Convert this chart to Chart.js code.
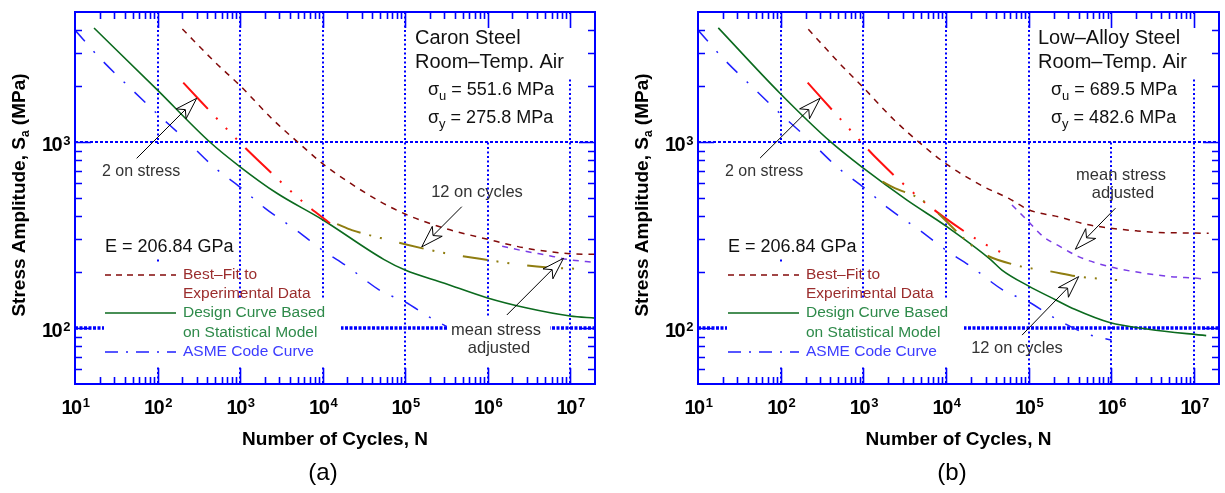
<!DOCTYPE html>
<html lang="en">
<head>
<meta charset="UTF-8">
<title>Fatigue S-N curves</title>
<script src="https://cdn.jsdelivr.net/npm/chart.js@4.4.0/dist/chart.umd.min.js"></script>
<style>
  body { margin: 0; background: #fff; }
  #wrap { position: relative; width: 1225px; height: 493px; }
  canvas { position: absolute; top: 0; }
</style>
</head>
<body>
<div id="wrap">
  <canvas id="chartA" width="612" height="493" style="left:0"></canvas>
  <canvas id="chartB" width="613" height="493" style="left:612px"></canvas>
</div>
<script>
// tick decades (labels are 10^d)
const xDecades = [1, 2, 3, 4, 5, 6, 7];
const yDecades = [2, 3];

// ASME code curve, same in both panels
const asmeN = [10, 20, 50, 100, 200, 500, 1e3, 2e3, 5e3, 1e4, 2e4, 5e4, 1e5, 2e5, 5e5, 1e6];
const asmeS = [3999, 2827, 1896, 1413, 1069, 724, 572, 441, 331, 262, 214, 159, 138, 114, 93.1, 86.2];

// (a) carbon steel
const fitA_N = [200, 500, 1e3, 2.5e3, 6e3, 1e4, 2e4, 5e4, 1e5, 3e5, 1e6, 3e6, 1e7, 2e7];
const fitA_S = [4050, 2680, 2010, 1320, 930, 765, 615, 478, 410, 344, 300, 268, 251, 249];
const designA_N = [17, 100, 430, 1e3, 2.8e3, 1e4, 5.5e4, 1e5, 3e5, 1e6, 3e6, 1e7, 2e7];
const designA_S = [4100, 1900, 1000, 736, 530, 382, 234, 205, 174, 145, 128, 116, 113];
const stressA_N = [205, 930, 2e3, 5.75e3, 1.23e4];
const stressA_S = [2085, 1025, 736, 477, 366];
const cycleA_N = [1.5e4, 2.26e4, 5e4, 1e5, 3e5, 1e6, 2e6, 5e6, 1.3e7];
const cycleA_S = [362, 336, 305, 282, 253, 232, 222, 212, 208];
const meanA_N = [1.5e6, 2.7e6, 5.8e6, 9.2e6, 2e7];
const meanA_S = [275, 260, 244, 234, 225];

// (b) low-alloy steel
const fitB_N = [216, 514, 960, 2.31e3, 5.35e3, 1.02e4, 2.6e4, 6e4, 1e5, 2.4e5, 4.8e5, 9.3e5, 2e6, 3.4e6, 1e7, 1.5e7];
const fitB_S = [4040, 2650, 2000, 1325, 951, 759, 588, 492, 432, 394, 362, 345, 333, 327, 324, 323];
const designB_N = [17.6, 98, 400, 1e3, 3.37e3, 1.02e4, 3.43e4, 4.74e4, 1e5, 2.1e5, 3.6e5, 9.5e5, 2.8e6, 1.4e7];
const designB_S = [4110, 1830, 1004, 723, 487, 351, 234, 205, 168, 142, 126, 107, 98.5, 91];
const stressB_N = [212, 726, 1483, 4450, 9330, 2.84e4, 5.98e4];
const stressB_S = [2084, 1136, 807, 513, 396, 285, 242];
const cycleB_N = [1.7e3, 2.3e3, 5.1e3, 2.6e4, 6.9e4, 1.9e5, 4e5, 1.17e6];
const cycleB_S = [612, 570, 488, 257, 218, 201, 189, 181];
const meanB_N = [6.27e4, 9.5e4, 1.5e5, 2.4e5, 4e5, 6.7e5, 1.17e6, 2.5e6, 5.2e6, 1.1e7, 1.4e7];
const meanB_S = [458, 381, 310, 274, 242, 223, 209, 197, 189, 185, 183];

const BLUE = '#0000ff';
const FAM = '"Liberation Sans", Arial, sans-serif';
const f = (size, bold) => (bold ? 'bold ' : '') + size + 'px ' + FAM;

const C_FIT = '#820a0a', C_DESIGN = '#0b6a1e', C_ASME = '#1f1fff';
const C_STRESS = '#ff1010', C_CYCLE = '#8f7d10', C_MEAN = '#7a3ce6';

function pts(n, s) { return n.map((v, i) => ({x: v, y: s[i]})); }

function ds(n, s, color, dash, width) {
  return {
    data: pts(n, s), borderColor: color, borderDash: dash, borderWidth: width,
    pointRadius: 0, fill: false, cubicInterpolationMode: 'monotone'
  };
}

function rich(ctx, parts, x, y, align) {
  let w = 0;
  const ws = parts.map(p => { ctx.font = p[1]; const m = ctx.measureText(p[0]).width; w += m; return m; });
  let cx = align === 'center' ? x - w / 2 : align === 'right' ? x - w : x;
  ctx.textAlign = 'left';
  parts.forEach((p, i) => { ctx.font = p[1]; ctx.fillText(p[0], cx, y + (p[2] || 0)); cx += ws[i]; });
}

function arrow(ctx, x1, y1, x2, y2) {
  const ang = Math.atan2(y2 - y1, x2 - x1);
  const c = Math.cos(ang), s = Math.sin(ang);
  const L = 22, W = 7, notch = 6;
  const P = (u, v) => [x2 - u * c - v * s, y2 - u * s + v * c];
  const nb = P(L - notch, 0);
  ctx.beginPath(); ctx.moveTo(x1, y1); ctx.lineTo(nb[0], nb[1]); ctx.stroke();
  const w1 = P(L, W), w2 = P(L, -W);
  ctx.beginPath();
  ctx.moveTo(x2, y2); ctx.lineTo(w1[0], w1[1]); ctx.lineTo(nb[0], nb[1]); ctx.lineTo(w2[0], w2[1]);
  ctx.closePath();
  ctx.fillStyle = '#fff'; ctx.fill(); ctx.stroke();
}

function makePlugin(p) {
  return {
    id: 'panelDecor',
    beforeDatasetsDraw(chart) {
      const {ctx, chartArea: a, scales: {x, y}} = chart;
      ctx.save();
      ctx.strokeStyle = BLUE;
      ctx.lineWidth = 2;
      ctx.setLineDash([2, 2.5]);
      xDecades.forEach(d => {
        const px = Math.round(x.getPixelForValue(10 ** d));
        if (px <= a.left + 2 || px >= a.right - 2) return;
        ctx.beginPath(); ctx.moveTo(px, a.top); ctx.lineTo(px, a.bottom); ctx.stroke();
      });
      yDecades.forEach(d => {
        const py = Math.round(y.getPixelForValue(10 ** d));
        ctx.lineWidth = d === 2 ? 3.5 : 2;
        ctx.setLineDash(d === 2 ? [3, 1.5] : [3, 2]);
        ctx.beginPath(); ctx.moveTo(a.left, py); ctx.lineTo(a.right, py); ctx.stroke();
      });
      ctx.restore();
    },
    afterDatasetsDraw(chart) {
      const {ctx, chartArea: a, scales: {x, y}} = chart;
      const L = a.left;
      ctx.save();
      // white text boxes that hide grid lines
      ctx.fillStyle = '#fff';
      const boxes = [[22, 144, 95, 114], [22, 233, 141, 25], [29, 263, 132, 104], [161, 300, 105, 67],
                     [335, 14, 163, 63], [345, 77, 142, 63]].concat(p.boxes);
      boxes.forEach(b => ctx.fillRect(L + b[0], b[1], b[2], b[3]));

      ctx.textBaseline = 'middle';
      // material block
      ctx.fillStyle = '#111';
      rich(ctx, [[p.title, f(20)]], L + 340, 38, 'left');
      rich(ctx, [['Room–Temp. Air', f(20)]], L + 340, 62, 'left');
      rich(ctx, [['σ', f(18)], ['u', f(13), 6], [' = ' + p.uts + ' MPa', f(18)]], L + 353, 90, 'left');
      rich(ctx, [['σ', f(18)], ['y', f(13), 6], [' = ' + p.ys + ' MPa', f(18)]], L + 353, 118, 'left');
      rich(ctx, [['E = 206.84 GPa', f(18)]], L + 30, 247, 'left');
      ctx.fillStyle = '#333';
      rich(ctx, [['2 on stress', f(16)]], L + 27, 172, 'left');
      p.labels.forEach(t => rich(ctx, [[t[0], f(16.5)]], L + t[1], t[2], 'center'));

      // legend
      const sample = (yy, color, dash, w) => {
        ctx.strokeStyle = color; ctx.lineWidth = w; ctx.setLineDash(dash);
        ctx.beginPath(); ctx.moveTo(L + 30, yy); ctx.lineTo(L + 101, yy); ctx.stroke();
      };
      sample(275, C_FIT, [6, 5], 1.3);
      sample(313, C_DESIGN, [], 1.3);
      sample(352, C_ASME, [13, 8, 2, 8], 1.3);
      ctx.setLineDash([]);
      ctx.fillStyle = '#9b2d2d';
      rich(ctx, [['Best–Fit to', f(15.5)]], L + 108, 275, 'left');
      rich(ctx, [['Experimental Data', f(15.5)]], L + 108, 294, 'left');
      ctx.fillStyle = '#2e8a4a';
      rich(ctx, [['Design Curve Based', f(15.5)]], L + 108, 313, 'left');
      rich(ctx, [['on Statistical Model', f(15.5)]], L + 108, 333, 'left');
      ctx.fillStyle = '#3c3cff';
      rich(ctx, [['ASME Code Curve', f(15.5)]], L + 108, 352, 'left');

      // arrows, anchored in data coordinates
      ctx.strokeStyle = '#000'; ctx.lineWidth = 1;
      p.arrows.forEach(r => arrow(ctx, x.getPixelForValue(r[0]), y.getPixelForValue(r[1]),
                                      x.getPixelForValue(r[2]), y.getPixelForValue(r[3])));

      // frame and inward ticks
      ctx.strokeStyle = BLUE; ctx.lineWidth = 2; ctx.setLineDash([]);
      ctx.strokeRect(a.left, a.top, a.right - a.left, a.bottom - a.top);
      ctx.lineWidth = 1.6;
      ctx.beginPath();
      for (let d = 1; d <= 7; d++) for (let m = 1; m <= 9; m++) {
        const v = m * 10 ** d;
        if (v <= 10 || v >= 2e7) continue;
        const px = Math.round(x.getPixelForValue(v)) + 0.5, len = m === 1 ? 16 : 7;
        ctx.moveTo(px, a.bottom); ctx.lineTo(px, a.bottom - len);
        ctx.moveTo(px, a.top); ctx.lineTo(px, a.top + len);
      }
      for (let d = 1; d <= 3; d++) for (let m = 1; m <= 9; m++) {
        const v = m * 10 ** d;
        if (v <= 50 || v >= 5000) continue;
        const py = Math.round(y.getPixelForValue(v)) + 0.5, len = m === 1 ? 16 : 7;
        ctx.moveTo(a.left, py); ctx.lineTo(a.left + len, py);
        ctx.moveTo(a.right, py); ctx.lineTo(a.right - len, py);
      }
      ctx.stroke();

      // tick labels
      ctx.fillStyle = '#000';
      ctx.letterSpacing = '-1.5px';
      xDecades.forEach(d => {
        const px = x.getPixelForValue(10 ** d);
        rich(ctx, [['10', f(20, true)], [' ' + d, f(13, true), -5]], px, a.bottom + 24, 'center');
      });
      yDecades.forEach(d => {
        const py = y.getPixelForValue(10 ** d);
        rich(ctx, [['10', f(20, true)], [' ' + d, f(13, true), -4]], a.left - 6, py + 3, 'right');
      });
      ctx.letterSpacing = '0px';

      // axis titles
      rich(ctx, [['Number of Cycles, N', f(19, true)]], (a.left + a.right) / 2, 440, 'center');
      ctx.save();
      ctx.translate(L - 55, 195);
      ctx.rotate(-Math.PI / 2);
      rich(ctx, [['Stress Amplitude, S', f(19, true)], ['a', f(12, true), 6], [' (MPa)', f(19, true)]], 0, 0, 'center');
      ctx.restore();

      ctx.font = f(24);
      ctx.textAlign = 'center';
      ctx.fillText(p.tag, L + p.tagX, 473);
      ctx.restore();
    }
  };
}

function makeChart(id, pad, series, panel) {
  return new Chart(document.getElementById(id), {
    type: 'line',
    data: {
      datasets: [
        ds(series.mean[0], series.mean[1], C_MEAN, [6, 6], 1.5),
        ds(series.fit[0], series.fit[1], C_FIT, [6, 6], 1.5),
        ds(series.cycle[0], series.cycle[1], C_CYCLE, [25, 9, 2, 9, 2, 18], 2),
        ds(series.stress[0], series.stress[1], C_STRESS, [36, 12, 2, 12, 2, 12, 2, 12], 2),
        ds(asmeN, asmeS, C_ASME, [15, 13, 2, 13], 1.5),
        ds(series.design[0], series.design[1], C_DESIGN, [], 1.6)
      ]
    },
    options: {
      responsive: false,
      animation: false,
      layout: {padding: pad},
      scales: {
        x: {type: 'logarithmic', min: 10, max: 2e7, display: false},
        y: {type: 'logarithmic', min: 50, max: 5000, display: false}
      },
      plugins: {legend: {display: false}, tooltip: {enabled: false}}
    },
    plugins: [makePlugin(panel)]
  });
}

makeChart('chartA', {left: 75, right: 17, top: 12, bottom: 109}, {
  fit: [fitA_N, fitA_S], design: [designA_N, designA_S], stress: [stressA_N, stressA_S],
  cycle: [cycleA_N, cycleA_S], mean: [meanA_N, meanA_S]
}, {
  title: 'Caron Steel', uts: '551.6', ys: '275.8', tag: '(a)', tagX: 248,
  labels: [['12 on cycles', 402, 192], ['mean stress', 421, 330], ['adjusted', 424, 348]],
  boxes: [[372, 318, 103, 49]],
  arrows: [[55.9, 817, 298, 1718], [4.86e5, 449, 1.59e5, 273], [1.71e6, 117.5, 8.3e6, 237]]
});

makeChart('chartB', {left: 86, right: 6, top: 12, bottom: 109}, {
  fit: [fitB_N, fitB_S], design: [designB_N, designB_S], stress: [stressB_N, stressB_S],
  cycle: [cycleB_N, cycleB_S], mean: [meanB_N, meanB_S]
}, {
  title: 'Low–Alloy Steel', uts: '689.5', ys: '482.6', tag: '(b)', tagX: 254,
  labels: [['mean stress', 423, 175], ['adjusted', 425, 193], ['12 on cycles', 319, 348]],
  boxes: [],
  arrows: [[56.4, 820, 300, 1718], [1.12e6, 441, 3.66e5, 265], [8.3e4, 91.6, 4.02e5, 189]]
});
</script>
</body>
</html>
